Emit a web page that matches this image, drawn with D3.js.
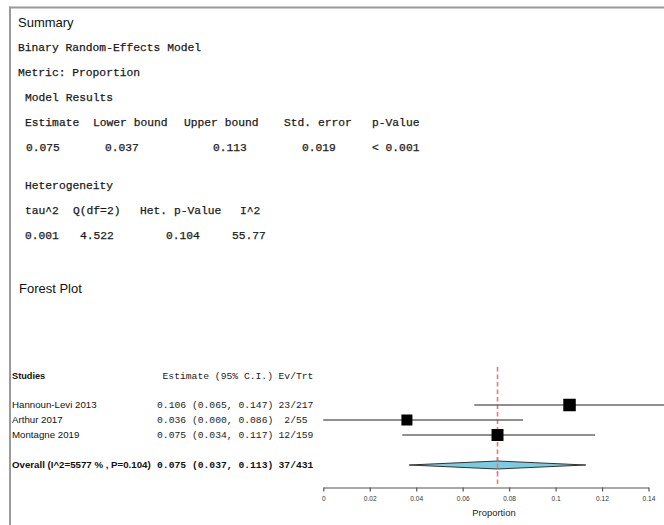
<!DOCTYPE html>
<html><head><meta charset="utf-8">
<script src="https://cdn.jsdelivr.net/npm/d3@7"></script>
<style>
html,body{margin:0;padding:0;background:#fff;}
svg{display:block;}
text{white-space:pre;}
</style></head>
<body>
<svg id="c" width="664" height="525"></svg>
<script>
// ---- data ----
const modelHeaders = ["Estimate", "Lower bound", "Upper bound", "Std. error", "p-Value"];
const modelValues = ["0.075", "0.037", "0.113", "0.019", "< 0.001"];
const hetHeaders = ["tau^2", "Q(df=2)", "Het. p-Value", "I^2"];
const hetValues = ["0.001", "4.522", "0.104", "55.77"];

const studies = ["Hannoun-Levi 2013", "Arthur 2017", "Montagne 2019"];
const estimates = [0.106, 0.036, 0.075];
const lowerCI = [0.065, 0.000, 0.034];
const upperCI = [0.147, 0.086, 0.117];
const events = [23, 2, 12];
const totals = [217, 55, 159];

const overallLabel = "Overall (I^2=5577 % , P=0.104)";
const overallValues = [0.075, 0.037, 0.113]; // estimate, lower, upper
const overallCounts = [37, 431];

const xTicks = [0, 0.02, 0.04, 0.06, 0.08, 0.1, 0.12, 0.14];
const xTickLabels = ["0", "0.02", "0.04", "0.06", "0.08", "0.1", "0.12", "0.14"];

// ---- drawing ----
const svg = d3.select("#c");
const SANS = "'Liberation Sans', Arial, sans-serif";
const MONO = "'Liberation Mono', 'Courier New', monospace";

// frame
svg.append("line").attr("x1", 9).attr("x2", 664).attr("y1", 7.5).attr("y2", 7.5)
  .attr("stroke", "#9a9a9a").attr("stroke-width", 2);
svg.append("line").attr("x1", 10).attr("x2", 10).attr("y1", 6.5).attr("y2", 525)
  .attr("stroke", "#9a9a9a").attr("stroke-width", 2);

// Summary section
svg.append("text").attr("x", 18).attr("y", 27).attr("font-family", SANS)
  .attr("font-size", 13).attr("fill", "#111").text("Summary");

const monoLine = (x, y, t) => svg.append("text").attr("x", x).attr("y", y)
  .attr("font-family", MONO).attr("font-size", 11.3).attr("fill", "#1a1a1a")
  .attr("stroke", "#1a1a1a").attr("stroke-width", 0.25).text(t);

monoLine(18, 51, "Binary Random-Effects Model");
monoLine(18, 75.5, "Metric: Proportion");
monoLine(25, 100.5, "Model Results");

const modelHeadX = [25, 93, 184, 284, 372];
const modelValX = [26, 105, 213, 302, 372];
modelHeaders.forEach((h, i) => monoLine(modelHeadX[i], 125.5, h));
modelValues.forEach((v, i) => monoLine(modelValX[i], 151, v));

monoLine(25, 189, "Heterogeneity");
const hetHeadX = [25, 73, 140, 240];
const hetValX = [25, 80, 166, 232];
hetHeaders.forEach((h, i) => monoLine(hetHeadX[i], 214, h));
hetValues.forEach((v, i) => monoLine(hetValX[i], 239, v));

svg.append("text").attr("x", 19).attr("y", 293).attr("font-family", SANS)
  .attr("font-size", 13).attr("fill", "#111").text("Forest Plot");

// Forest plot
const x = d3.scaleLinear().domain([0, 0.14]).range([323.3, 648.5]);
const rowY = d3.scalePoint().domain(studies).range([405, 435]);
const overallY = 465;
const headerY = 379;
const f3 = d3.format(".3f");
const sizeScale = d3.scaleLinear().domain([55, 217]).range([11, 12.5]);
const REF = "#f4717f";

// header
svg.append("text").attr("x", 12).attr("y", headerY).attr("font-family", SANS)
  .attr("font-size", 9.2).attr("font-weight", "bold").attr("fill", "#111").text("Studies");
svg.append("text").attr("x", 273).attr("y", headerY).attr("text-anchor", "end")
  .attr("font-family", MONO).attr("font-size", 9.7).attr("fill", "#222").text("Estimate (95% C.I.)");
svg.append("text").attr("x", 296).attr("y", headerY).attr("text-anchor", "middle")
  .attr("font-family", MONO).attr("font-size", 9.7).attr("fill", "#222").text("Ev/Trt");

// reference line at overall estimate
svg.append("line").attr("x1", x(overallValues[0])).attr("x2", x(overallValues[0]))
  .attr("y1", 367).attr("y2", 486).attr("stroke", REF).attr("stroke-width", 1.6)
  .attr("stroke-dasharray", "4.5,3");

// study rows
const rows = svg.append("g").selectAll("g").data(studies).join("g");
rows.append("text").attr("x", 12).attr("y", d => rowY(d) + 3.4)
  .attr("font-family", SANS).attr("font-size", 9.7).attr("fill", "#111").text(d => d);
rows.append("text").attr("x", 157).attr("y", d => rowY(d) + 3.3)
  .attr("font-family", MONO).attr("font-size", 9.7).attr("fill", "#222")
  .text((d, i) => `${f3(estimates[i])} (${f3(lowerCI[i])}, ${f3(upperCI[i])})`);
rows.append("text").attr("x", 296).attr("y", d => rowY(d) + 3.3).attr("text-anchor", "middle")
  .attr("font-family", MONO).attr("font-size", 9.7).attr("fill", "#222")
  .text((d, i) => `${events[i]}/${totals[i]}`);
rows.append("line").attr("x1", (d, i) => x(lowerCI[i])).attr("x2", (d, i) => x(upperCI[i]))
  .attr("y1", d => rowY(d)).attr("y2", d => rowY(d))
  .attr("stroke", "#6a6a6a").attr("stroke-width", 1.4);
rows.append("rect")
  .attr("x", (d, i) => x(estimates[i]) - sizeScale(totals[i]) / 2)
  .attr("y", (d, i) => rowY(d) - sizeScale(totals[i]) / 2)
  .attr("width", (d, i) => sizeScale(totals[i]))
  .attr("height", (d, i) => sizeScale(totals[i]))
  .attr("fill", "#000");

// overall row
svg.append("text").attr("x", 12).attr("y", overallY + 3.4).attr("font-family", SANS)
  .attr("font-size", 9.7).attr("font-weight", "bold").attr("fill", "#111").text(overallLabel);
svg.append("text").attr("x", 157).attr("y", overallY + 3.3).attr("font-family", MONO)
  .attr("font-size", 9.7).attr("font-weight", "bold").attr("fill", "#111")
  .text(`${f3(overallValues[0])} (${f3(overallValues[1])}, ${f3(overallValues[2])})`);
svg.append("text").attr("x", 296).attr("y", overallY + 3.3).attr("text-anchor", "middle")
  .attr("font-family", MONO).attr("font-size", 9.7).attr("font-weight", "bold").attr("fill", "#111")
  .text(`${overallCounts[0]}/${overallCounts[1]}`);
const dh = 4;
svg.append("path")
  .attr("d", `M${x(overallValues[1])},${overallY} L${x(overallValues[0])},${overallY - dh} L${x(overallValues[2])},${overallY} L${x(overallValues[0])},${overallY + dh} Z`)
  .attr("fill", "#79cde0").attr("stroke", "#333").attr("stroke-width", 1);

// reference line drawn over the diamond, as in the reference
svg.append("line").attr("x1", x(overallValues[0])).attr("x2", x(overallValues[0]))
  .attr("y1", overallY - 8).attr("y2", overallY + 8).attr("stroke", REF).attr("stroke-width", 1.6)
  .attr("stroke-dasharray", "4.5,3").attr("stroke-dashoffset", 1);

// axis
const axis = d3.axisBottom(x).tickValues(xTicks).tickSize(4).tickSizeOuter(0)
  .tickFormat((d, i) => xTickLabels[i]);
const ag = svg.append("g").attr("transform", "translate(0,487.5)").call(axis);
ag.select(".domain").attr("stroke", "#555").attr("stroke-width", 1.2);
ag.selectAll(".tick line").attr("stroke", "#555").attr("stroke-width", 1.2);
ag.selectAll(".tick text").attr("font-family", SANS).attr("font-size", 6.6)
  .attr("fill", "#333").attr("dy", "0.5em").attr("y", 10);

svg.append("text").attr("x", 494).attr("y", 516).attr("text-anchor", "middle")
  .attr("font-family", SANS).attr("font-size", 9.4).attr("fill", "#222").text("Proportion");
</script>
</body></html>
